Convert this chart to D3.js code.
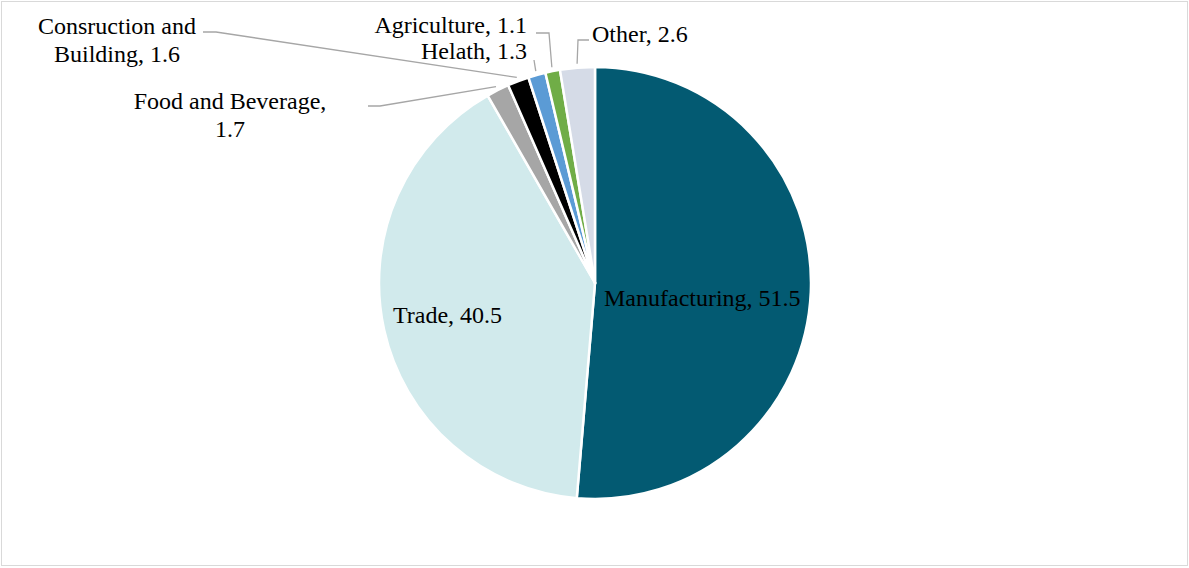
<!DOCTYPE html>
<html>
<head>
<meta charset="utf-8">
<script src="https://cdn.jsdelivr.net/npm/d3@7"></script>
<style>
  body { margin: 0; background: #fff; }
  text { font-family: "Liberation Serif", "Times New Roman", Times, serif; font-size: 24px; fill: #000; }
</style>
</head>
<body>
<svg id="chart" width="1189" height="568"></svg>
<script>
var categories = ["Manufacturing", "Trade", "Food and Beverage", "Consruction and Building", "Helath", "Agriculture", "Other"];
var values = [51.5, 40.5, 1.7, 1.6, 1.3, 1.1, 2.6];
var colors = ["#035a72", "#d1eaec", "#a6a6a6", "#000000", "#5b9bd5", "#70ad47", "#d5dbe7"];

var width = 1189, height = 568;
var cx = 595, cy = 283, radius = 216;

// label layout: lines of text, anchor, position, leader elbow (null = inside label)
var labelLayout = [
  { lines: ["Manufacturing, 51.5"], x: 604, y: 306, anchor: "start", leader: null },
  { lines: ["Trade, 40.5"], x: 393, y: 323, anchor: "start", leader: null },
  { lines: ["Food and Beverage,", "1.7"], x: 230, y: 109, anchor: "middle", leader: [[368, 106], [380, 106]] },
  { lines: ["Consruction and", "Building, 1.6"], x: 117, y: 34, anchor: "middle", leader: [[203, 32], [216, 32]] },
  { lines: ["Helath, 1.3"], x: 527, y: 59, anchor: "end", leader: [[534, 60], [534, 60]] },
  { lines: ["Agriculture, 1.1"], x: 527, y: 33, anchor: "end", leader: [[536, 33], [549, 33]] },
  { lines: ["Other, 2.6"], x: 592, y: 42, anchor: "start", leader: [[589, 40], [578, 40]] }
];

var svg = d3.select("#chart");

svg.append("rect")
  .attr("x", 1.5).attr("y", 1.5)
  .attr("width", width - 3).attr("height", height - 4)
  .attr("fill", "#fff")
  .attr("stroke", "#d9d9d9")
  .attr("stroke-width", 1);

var pie = d3.pie().sort(null).value(function(d) { return d; });
var arcs = pie(values);

var arc = d3.arc().innerRadius(0).outerRadius(radius);

var g = svg.append("g").attr("transform", "translate(" + cx + "," + cy + ")");

g.selectAll(".slice").data(arcs).enter()
  .append("path")
  .attr("class", "slice")
  .attr("d", arc)
  .attr("fill", function(d, i) { return colors[i]; })
  .attr("stroke", "#fff")
  .attr("stroke-width", 2.5)
  .attr("stroke-linejoin", "round");

// leader lines
arcs.forEach(function(d, i) {
  var lay = labelLayout[i];
  if (!lay.leader) return;
  var mid = (d.startAngle + d.endAngle) / 2;
  var r = radius + 4;
  var ex = cx + r * Math.sin(mid);
  var ey = cy - r * Math.cos(mid);
  var pts = lay.leader.concat([[ex, ey]]);
  svg.append("path")
    .attr("d", d3.line()(pts))
    .attr("fill", "none")
    .attr("stroke", "#a6a6a6")
    .attr("stroke-width", 1.3);
});

// labels
labelLayout.forEach(function(lay, i) {
  var t = svg.append("text")
    .attr("x", lay.x)
    .attr("y", lay.y)
    .attr("text-anchor", lay.anchor);
  lay.lines.forEach(function(line, j) {
    t.append("tspan")
      .attr("x", lay.x)
      .attr("dy", j === 0 ? 0 : 27.5)
      .text(line);
  });
});
</script>
</body>
</html>
